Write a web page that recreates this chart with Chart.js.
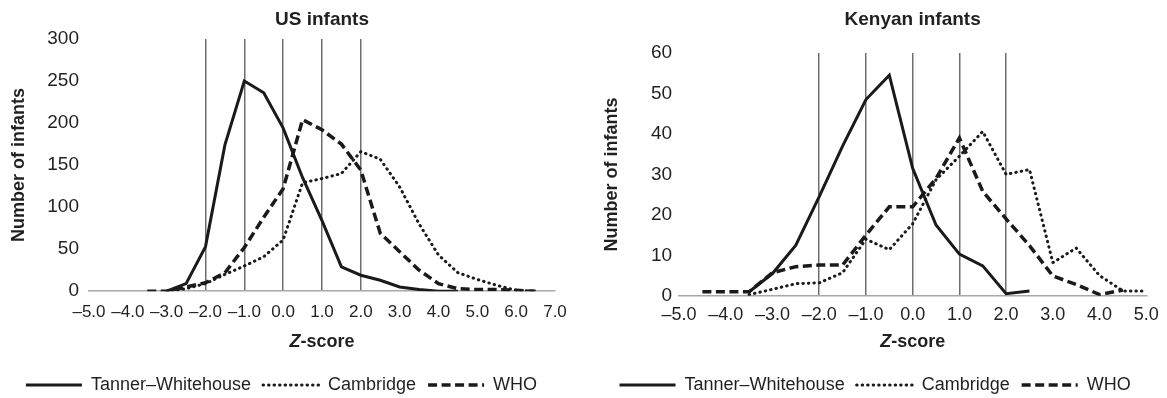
<!DOCTYPE html>
<html>
<head>
<meta charset="utf-8">
<script src="https://cdn.jsdelivr.net/npm/chart.js@4.4.0/dist/chart.umd.min.js"></script>
<style>
  html, body { margin: 0; padding: 0; background: #fff; overflow: hidden; }
  #wrap { position: relative; width: 1167px; height: 398px; }
  canvas { position: absolute; top: 0; }
</style>
</head>
<body>
<div id="wrap">
  <canvas id="usChart" width="590" height="404" style="left:0"></canvas>
  <canvas id="kenyaChart" width="577" height="404" style="left:590px"></canvas>
</div>
<script>
// ---- data (Z-score bins of 0.5) ----
const usZ = [-3.5, -3.0, -2.5, -2.0, -1.5, -1.0, -0.5, 0.0, 0.5, 1.0, 1.5, 2.0, 2.5, 3.0, 3.5, 4.0, 4.5, 5.0, 5.5, 6.0, 6.5];
const usTanner = [null, 0, 9, 53, 174, 250, 236, 194, 135, 84, 29, 19, 13, 5, 2, 0, 0, null, null, null, null];
const usCambridge = [null, 0, 3, 9, 20, 30, 41, 61, 129, 134, 140, 166, 157, 124, 80, 43, 22, 14, 7, 1, 0];
const usWho = [0, 0, 5, 10, 22, 52, 88, 122, 204, 192, 175, 144, 69, 47, 25, 9, 3, 2, 2, 1, 0];

const keZ = [-4.5, -4.0, -3.5, -3.0, -2.5, -2.0, -1.5, -1.0, -0.5, 0.0, 0.5, 1.0, 1.5, 2.0, 2.5, 3.0, 3.5, 4.0, 4.5, 5.0];
const keTanner = [null, null, 1, 5.5, 12.5, 24.5, 37, 48.5, 54.5, 31.5, 17.5, 10.3, 7.4, 0.5, 1.2, null, null, null, null, null];
const keCambridge = [null, null, 0.3, 1.6, 3, 3.2, 5.7, 14, 11.4, 17.8, 28.7, 34.5, 40.6, 30, 31.2, 8.2, 11.8, 5, 1.2, 1.2];
const keWho = [1, 1, 1, 5.7, 7.2, 7.6, 7.6, 15, 22, 22, 29, 39, 25.8, 19, 12.4, 4.9, 2.8, 0.3, 1.4, null];

const seriesNames = ['Tanner\u2013Whitehouse', 'Cambridge', 'WHO'];
const refLines = [-2, -1, 0, 1, 2];   // vertical reference lines

const FONT = '"Liberation Sans", Arial, sans-serif';
const TEXT = '#231f20';
const INK = '#1a1a1a';

function toPoints(zs, vals) {
  return zs.map((z, i) => ({ x: z, y: vals[i] }));
}

// draws the x title with an italic Z
function zTitlePlugin(padBottom) {
  return {
    id: 'zTitle',
    afterDraw(chart) {
      const sc = chart.scales.x;
      const ctx = chart.ctx;
      const cx = (sc.left + sc.right) / 2;
      const cy = sc.bottom - padBottom - 18 * 1.2 / 2;
      const italic = 'italic bold 18px ' + FONT;
      const bold = 'bold 18px ' + FONT;
      ctx.save();
      ctx.fillStyle = TEXT;
      ctx.textBaseline = 'middle';
      ctx.textAlign = 'left';
      ctx.font = italic;
      const w1 = ctx.measureText('Z').width;
      ctx.font = bold;
      const w2 = ctx.measureText('-score').width;
      const x0 = cx - (w1 + w2) / 2;
      ctx.font = italic;
      ctx.fillText('Z', x0, cy);
      ctx.font = bold;
      ctx.fillText('-score', x0 + w1, cy);
      ctx.restore();
    }
  };
}

// legend items keep the dataset's dash pattern
function legendLabels(chart) {
  return Chart.defaults.plugins.legend.labels.generateLabels(chart).map(item => {
    const ds = chart.data.datasets[item.datasetIndex];
    return Object.assign(item, {
      pointStyle: 'line',
      lineDash: ds.borderDash || [],
      lineCap: ds.borderCapStyle || 'butt',
      lineWidth: ds.borderWidth,
      strokeStyle: ds.borderColor,
    });
  });
}

function buildChart(id, c) {
  const ctx = document.getElementById(id).getContext('2d');
  return new Chart(ctx, {
    type: 'line',
    data: {
      datasets: [
        {
          label: seriesNames[0],
          data: toPoints(c.z, c.tanner),
          borderColor: INK,
          borderWidth: 3,
          pointRadius: 0,
          tension: 0,
        },
        {
          label: seriesNames[1],
          data: toPoints(c.z, c.cambridge),
          borderColor: INK,
          borderWidth: 3,
          borderDash: [0.5, 5],
          borderCapStyle: 'round',
          pointRadius: 0,
          tension: 0,
        },
        {
          label: seriesNames[2],
          data: toPoints(c.z, c.who),
          borderColor: INK,
          borderWidth: 3.5,
          borderDash: [9, 4.5],
          pointRadius: 0,
          tension: 0,
        },
      ],
    },
    options: {
      responsive: false,
      animation: false,
      layout: { padding: c.pad },
      plugins: {
        title: {
          display: true,
          text: c.title,
          fullSize: false,
          color: TEXT,
          font: { family: FONT, size: 19, weight: 'bold' },
          padding: c.titlePad,
        },
        legend: {
          position: 'bottom',
          labels: {
            usePointStyle: true,
            pointStyle: 'line',
            pointStyleWidth: 56,
            color: TEXT,
            padding: 12,
            font: { family: FONT, size: 18 },
            generateLabels: legendLabels,
          },
        },
        tooltip: { enabled: false },
      },
      scales: {
        x: {
          type: 'linear',
          min: c.xMin,
          max: c.xMax,
          ticks: {
            stepSize: 1,
            autoSkip: false,
            maxRotation: 0,
            padding: c.xTickPad,
            color: TEXT,
            font: { family: FONT, size: c.xTickSize },
            callback: v => (v < 0 ? '\u2013' : '') + Math.abs(v).toFixed(1),
          },
          grid: {
            drawTicks: false,
            lineWidth: 1.5,
            color: g => refLines.includes(g.tick && g.tick.value) ? '#6e6e6e' : 'rgba(0,0,0,0)',
          },
          border: { display: true, color: '#a8a8a8', width: 1.5 },
          title: {
            display: true,
            text: 'Z-score',
            color: 'rgba(0,0,0,0)',
            font: { family: FONT, size: 18, weight: 'bold' },
            padding: c.xTitlePad,
          },
        },
        y: {
          min: 0,
          max: c.yMax,
          ticks: {
            stepSize: c.yStep,
            padding: c.yTickPad,
            color: TEXT,
            font: { family: FONT, size: 19 },
          },
          grid: { display: false, drawTicks: false },
          border: { display: false },
          title: {
            display: true,
            text: 'Number of infants',
            color: TEXT,
            font: { family: FONT, size: 18, weight: 'bold' },
            padding: c.yTitlePad,
          },
        },
      },
    },
    plugins: [zTitlePlugin(c.xTitlePad.bottom)],
  });
}

buildChart('usChart', {
  title: 'US infants',
  z: usZ, tanner: usTanner, cambridge: usCambridge, who: usWho,
  xMin: -5, xMax: 7, yMax: 300, yStep: 50,
  pad: { left: 8, right: 35, top: 0, bottom: 0 },
  titlePad: { top: 8.6, bottom: 7.6 },
  yTitlePad: { top: 0, bottom: 7.7 },
  yTickPad: 10,
  xTickSize: 17,
  xTickPad: 10.8,
  xTitlePad: { top: -2, bottom: 11.2 },
});

buildChart('kenyaChart', {
  title: 'Kenyan infants',
  z: keZ, tanner: keTanner, cambridge: keCambridge, who: keWho,
  xMin: -5, xMax: 5, yMax: 60, yStep: 10,
  pad: { left: 11.2, right: 18, top: 0, bottom: 0 },
  titlePad: { top: 8.6, bottom: 21.6 },
  yTitlePad: { top: 0, bottom: 21.1 },
  yTickPad: 7,
  xTickSize: 18,
  xTickPad: 8.2,
  xTitlePad: { top: -2.6, bottom: 11.2 },
});
</script>
</body>
</html>
